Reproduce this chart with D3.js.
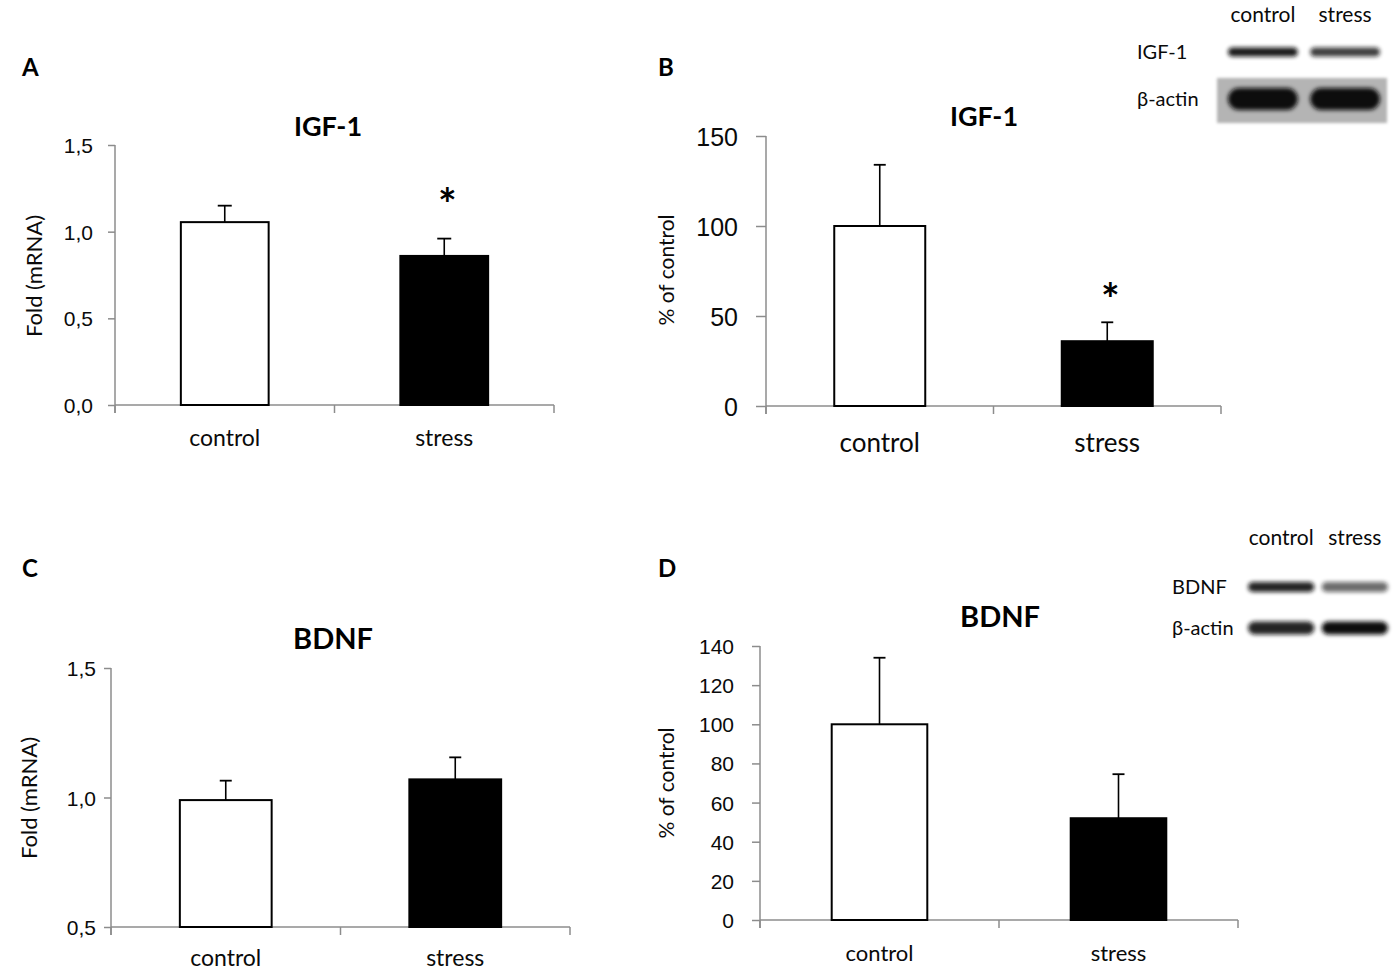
<!DOCTYPE html>
<html lang="en">
<head>
<meta charset="UTF-8">
<title>IGF-1 and BDNF</title>
<script src="https://d3js.org/d3.v7.min.js"></script>
<style>
    body { margin: 0; background: #fff; }
    svg { font-family: Lato, "Open Sans", sans-serif; }
    .axis path, .axis line { stroke: #8c8c8c; stroke-width: 1.5px; }
</style>
</head>
<body>
<svg id="fig" width="1400" height="973"></svg>
<script>
    // groups and values
    const groups = ["control", "stress"];

    const igfMrnaMean = [1.055, 0.86];
    const igfMrnaErr = [0.095, 0.10];
    const igfProtMean = [100, 36];
    const igfProtErr = [34, 10.5];
    const bdnfMrnaMean = [0.99, 1.07];
    const bdnfMrnaErr = [0.075, 0.085];
    const bdnfProtMean = [100, 52];
    const bdnfProtErr = [34, 22.5];

    const igfSignif = [false, true];
    const bdnfSignif = [false, false];

    const foldTicksA = [0, 0.5, 1.0, 1.5];
    const pctTicksB = [0, 50, 100, 150];
    const foldTicksC = [0.5, 1.0, 1.5];
    const pctTicksD = [0, 20, 40, 60, 80, 100, 120, 140];

    // western blot band intensities (0..1), lanes control / stress
    const blotLanes = ["control", "stress"];
    const igfBand = [0.95, 0.8];
    const igfActin = [1, 1];
    const bdnfBand = [0.9, 0.6];
    const bdnfActin = [0.9, 1];

    const svg = d3.select("#fig");
    const fmtComma = d => d3.format(".1f")(d).replace(".", ",");

    // blur filter for blot bands
    const defs = svg.append("defs");
    defs.append("filter").attr("id", "blur").attr("x", "-20%").attr("y", "-50%")
        .attr("width", "140%").attr("height", "200%")
        .append("feGaussianBlur").attr("stdDeviation", 2.2);
    defs.append("filter").attr("id", "blur2")
        .append("feGaussianBlur").attr("stdDeviation", 1.5);

    function barPanel(p) {
        let g = svg.append("g");
        let x = d3.scalePoint().domain(groups).range([p.x0, p.x1]).padding(0.5);
        let y = d3.scaleLinear().domain(p.domain).range([p.yBot, p.yTop]);
        let bw = x.step() * 0.4;

        // y axis
        g.append("g").attr("class", "axis")
            .attr("transform", `translate(${p.x0},0)`)
            .call(d3.axisLeft(y).tickValues(p.ticks).tickSize(p.tick).tickSizeOuter(0).tickFormat(p.fmt))
            .call(a => a.select(".domain").attr("d", `M0,${p.yTop}V${p.yBot + 8}`))
            .call(a => a.selectAll("text").attr("fill", "#0a0a0a").attr("font-size", p.tickFont)
                .attr("x", -p.labGap).attr("dy", "0.36em"));

        // x axis with ticks between categories
        let xa = g.append("g").attr("class", "axis");
        xa.append("line").attr("x1", p.x0).attr("x2", p.x1).attr("y1", p.yBot).attr("y2", p.yBot);
        xa.selectAll("line.tk").data([p.x0, (p.x0 + p.x1) / 2, p.x1]).join("line").attr("class", "tk")
            .attr("x1", d => d).attr("x2", d => d).attr("y1", p.yBot).attr("y2", p.yBot + 8);
        g.selectAll("text.xl").data(groups).join("text").attr("class", "xl")
            .attr("x", d => x(d)).attr("y", p.yBot + p.xlabDy)
            .attr("text-anchor", "middle").attr("font-size", p.xFont).attr("fill", "#0a0a0a")
            .text(d => d);

        // error bars (upper only)
        groups.forEach((k, i) => {
            let top = y(p.mean[i] + p.err[i]);
            g.append("line").attr("x1", x(k)).attr("x2", x(k))
                .attr("y1", y(p.mean[i])).attr("y2", top)
                .attr("stroke", "#000").attr("stroke-width", 1.6);
            g.append("line").attr("x1", x(k) - p.cap).attr("x2", x(k) + p.cap)
                .attr("y1", top).attr("y2", top)
                .attr("stroke", "#000").attr("stroke-width", 1.8);
            if (p.signif[i]) {
                g.append("text").attr("x", x(k) + 3).attr("y", top - p.starDy)
                    .attr("text-anchor", "middle").attr("font-size", 44).attr("font-weight", "bold")
                    .text("*");
            }
        });

        // bars
        g.selectAll("rect.bar").data(groups).join("rect").attr("class", "bar")
            .attr("x", d => x(d) - bw / 2).attr("width", bw)
            .attr("y", (d, i) => y(p.mean[i]))
            .attr("height", (d, i) => p.yBot - y(p.mean[i]))
            .attr("fill", (d, i) => i === 0 ? "#fff" : "#000")
            .attr("stroke", "#000").attr("stroke-width", 2);

        // title, y label, panel letter
        g.append("text").attr("x", p.titleX).attr("y", p.titleY)
            .attr("text-anchor", "middle").attr("font-size", p.titleFont).attr("font-weight", "bold")
            .text(p.title);
        g.append("text")
            .attr("transform", `translate(${p.ylabX},${p.ylabY}) rotate(-90)`)
            .attr("text-anchor", "middle").attr("font-size", p.ylabFont).attr("fill", "#0a0a0a")
            .text(p.ylab);
        g.append("text").attr("x", p.letterX).attr("y", p.letterY)
            .attr("font-size", 24).attr("font-weight", "bold").text(p.letter);
    }

    barPanel({x0: 115, x1: 554, yTop: 145, yBot: 405, domain: [0, 1.5], ticks: foldTicksA, fmt: fmtComma,
        tick: 7, labGap: 22, tickFont: 21, xFont: 23, xlabDy: 41, cap: 7, mean: igfMrnaMean, err: igfMrnaErr,
        signif: igfSignif, starDy: 19, title: "IGF-1", titleX: 328, titleY: 136, titleFont: 27,
        ylab: "Fold (mRNA)", ylabX: 42, ylabY: 276, ylabFont: 22, letter: "A", letterX: 22, letterY: 76});

    barPanel({x0: 766, x1: 1221, yTop: 136, yBot: 406, domain: [0, 150], ticks: pctTicksB, fmt: d3.format("d"),
        tick: 10, labGap: 28, tickFont: 25, xFont: 26, xlabDy: 46, cap: 6, mean: igfProtMean, err: igfProtErr,
        signif: igfSignif, starDy: 7, title: "IGF-1", titleX: 984, titleY: 126, titleFont: 27,
        ylab: "% of control", ylabX: 674, ylabY: 270, ylabFont: 21, letter: "B", letterX: 658, letterY: 76});

    barPanel({x0: 111, x1: 570, yTop: 668, yBot: 927, domain: [0.5, 1.5], ticks: foldTicksC, fmt: fmtComma,
        tick: 7, labGap: 15, tickFont: 21, xFont: 23, xlabDy: 39, cap: 6, mean: bdnfMrnaMean, err: bdnfMrnaErr,
        signif: bdnfSignif, starDy: 20, title: "BDNF", titleX: 333, titleY: 649, titleFont: 29,
        ylab: "Fold (mRNA)", ylabX: 37, ylabY: 798, ylabFont: 22, letter: "C", letterX: 22, letterY: 577});

    barPanel({x0: 760, x1: 1238, yTop: 646, yBot: 920, domain: [0, 140], ticks: pctTicksD, fmt: d3.format("d"),
        tick: 8, labGap: 26, tickFont: 21, xFont: 22, xlabDy: 41, cap: 6, mean: bdnfProtMean, err: bdnfProtErr,
        signif: bdnfSignif, starDy: 20, title: "BDNF", titleX: 1000, titleY: 627, titleFont: 29,
        ylab: "% of control", ylabX: 674, ylabY: 783, ylabFont: 21, letter: "D", letterX: 658, letterY: 577});

    // western blot insets
    function blot(b) {
        let g = svg.append("g");
        let lx = d3.scaleBand().domain(blotLanes).range(b.laneRange).paddingInner(b.pad);
        if (b.bgBox) {
            g.append("rect").attr("x", b.bgBox[0]).attr("y", b.bgBox[1])
                .attr("width", b.bgBox[2]).attr("height", b.bgBox[3])
                .attr("fill", "#b4b4b4").attr("filter", "url(#blur2)");
        }
        g.selectAll("text.lane").data(blotLanes).join("text").attr("class", "lane")
            .attr("x", d => lx(d) + lx.bandwidth() / 2).attr("y", b.laneY)
            .attr("text-anchor", "middle").attr("font-size", 21).attr("fill", "#0a0a0a").text(d => d);
        b.rows.forEach(r => {
            g.append("text").attr("x", b.labX).attr("y", r.y).attr("dy", "0.35em")
                .attr("font-size", 20).attr("fill", "#0a0a0a").text(r.name);
            g.selectAll(null).data(blotLanes).join("rect")
                .attr("x", d => lx(d)).attr("width", lx.bandwidth())
                .attr("y", r.y - r.h / 2).attr("height", r.h)
                .attr("rx", r.h / 2)
                .attr("fill", "#111").attr("opacity", (d, i) => r.vals[i])
                .attr("filter", "url(#blur)");
        });
    }

    blot({laneRange: [1228, 1380], pad: 0.15, laneY: 22, labX: 1137, bgBox: [1217, 78, 170, 45],
        rows: [{name: "IGF-1", y: 52, h: 9, vals: igfBand}, {name: "β-actin", y: 99, h: 22, vals: igfActin}]});

    blot({laneRange: [1248, 1388], pad: 0.1, laneY: 545, labX: 1172, bgBox: null,
        rows: [{name: "BDNF", y: 587, h: 10, vals: bdnfBand}, {name: "β-actin", y: 628, h: 13, vals: bdnfActin}]});
</script>
</body>
</html>
